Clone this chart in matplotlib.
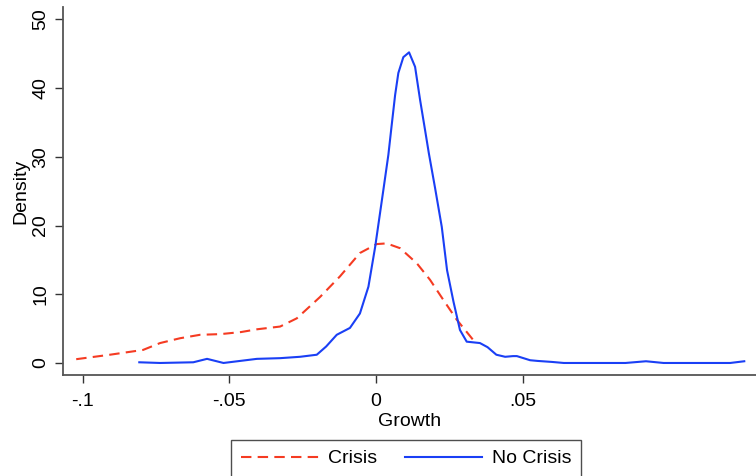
import matplotlib
matplotlib.use('Agg')
import matplotlib.pyplot as plt

# kernel density estimates
crisis_x = [-0.1022, -0.0907, -0.0794, -0.0736, -0.0668, -0.0600, -0.0530, -0.0460,
            -0.0406, -0.0327, -0.0270, -0.0191, -0.0123, -0.0055, 0.0002, 0.0036,
            0.0082, 0.0139, 0.0184, 0.0229, 0.0275, 0.0332]
crisis_y = [0.55, 1.2, 1.9, 2.9, 3.6, 4.1, 4.2, 4.5,
            4.9, 5.3, 6.5, 9.6, 12.6, 16.0, 17.3, 17.4,
            16.7, 14.5, 12.1, 9.2, 6.3, 3.3]

nocrisis_x = [-0.0807, -0.0736, -0.0680, -0.0623, -0.0576, -0.0520, -0.0463, -0.0406,
              -0.0327, -0.0259, -0.0202, -0.0170, -0.0134, -0.0089, -0.0055, -0.0026,
              -0.0003, 0.0025, 0.0042, 0.0053, 0.0065, 0.0076, 0.0093, 0.01125,
              0.0133, 0.0150, 0.0167, 0.0180, 0.0201, 0.0224, 0.0242, 0.0264,
              0.0286, 0.0309, 0.0354, 0.0380, 0.0410, 0.0440, 0.0467, 0.0480,
              0.0525, 0.0550, 0.0600, 0.0640, 0.0850, 0.0920, 0.0980, 0.1207, 0.1255]
nocrisis_y = [0.1, 0.0, 0.05, 0.1, 0.6, 0.0, 0.3, 0.6,
              0.7, 0.9, 1.2, 2.4, 4.1, 5.1, 7.2, 11.1,
              16.9, 25.2, 30.3, 34.5, 39.0, 42.2, 44.5, 45.2,
              43.1, 38.3, 33.9, 30.5, 25.5, 19.8, 13.5, 8.9,
              4.8, 3.1, 2.9, 2.3, 1.2, 0.9, 1.0, 1.0,
              0.4, 0.3, 0.15, 0.0, 0.0, 0.25, 0.0, 0.0, 0.25]

xticks = [-0.1, -0.05, 0, 0.05]
xtick_labels = ['-.1', '-.05', '0', '.05']
yticks = [0, 10, 20, 30, 40, 50]

plt.rcParams['font.family'] = ['Liberation Sans', 'DejaVu Sans']
plt.rcParams['font.size'] = 14

fig = plt.figure(figsize=(7.56, 4.76), dpi=100)
ax = fig.add_axes([63 / 756, 1 - 375 / 476, 1 - 63 / 756, (375 - 7) / 476])

red = '#f53b22'
blue = '#1a3ff5'
ax.plot(crisis_x, crisis_y, color=red, lw=1.5, ls=(0, (5, 3)), label='Crisis')
ax.plot(nocrisis_x, nocrisis_y, color=blue, lw=1.5, label='No Crisis')

ax.set_xlim(-0.1067, 0.1295)
ax.set_ylim(-1.75, 51.8)
ax.set_xticks(xticks)
ax.set_xticklabels(xtick_labels)
ax.set_yticks(yticks)
ax.set_yticklabels([str(v) for v in yticks], rotation=90, va='center')

for s in ['top', 'right']:
    ax.spines[s].set_visible(False)
for s in ['left', 'bottom']:
    ax.spines[s].set_color('#555555')
    ax.spines[s].set_linewidth(1.3)
ax.tick_params(direction='out', length=6, width=1, color='#333333', pad=4)
ax.tick_params(axis='x', pad=7)
ax.set_xlabel('Growth', labelpad=2)
ax.set_ylabel('Density', labelpad=2)

leg = fig.legend(loc='upper left', bbox_to_anchor=(231 / 756, 1 - 440 / 476),
                 ncol=2, frameon=True, fancybox=False, handlelength=4.0,
                 handletextpad=0.5, columnspacing=1.4, borderpad=0.5,
                 borderaxespad=0)
leg.get_frame().set_edgecolor('#222222')
leg.get_frame().set_linewidth(1.0)

fig.savefig('out.png', dpi=100)
